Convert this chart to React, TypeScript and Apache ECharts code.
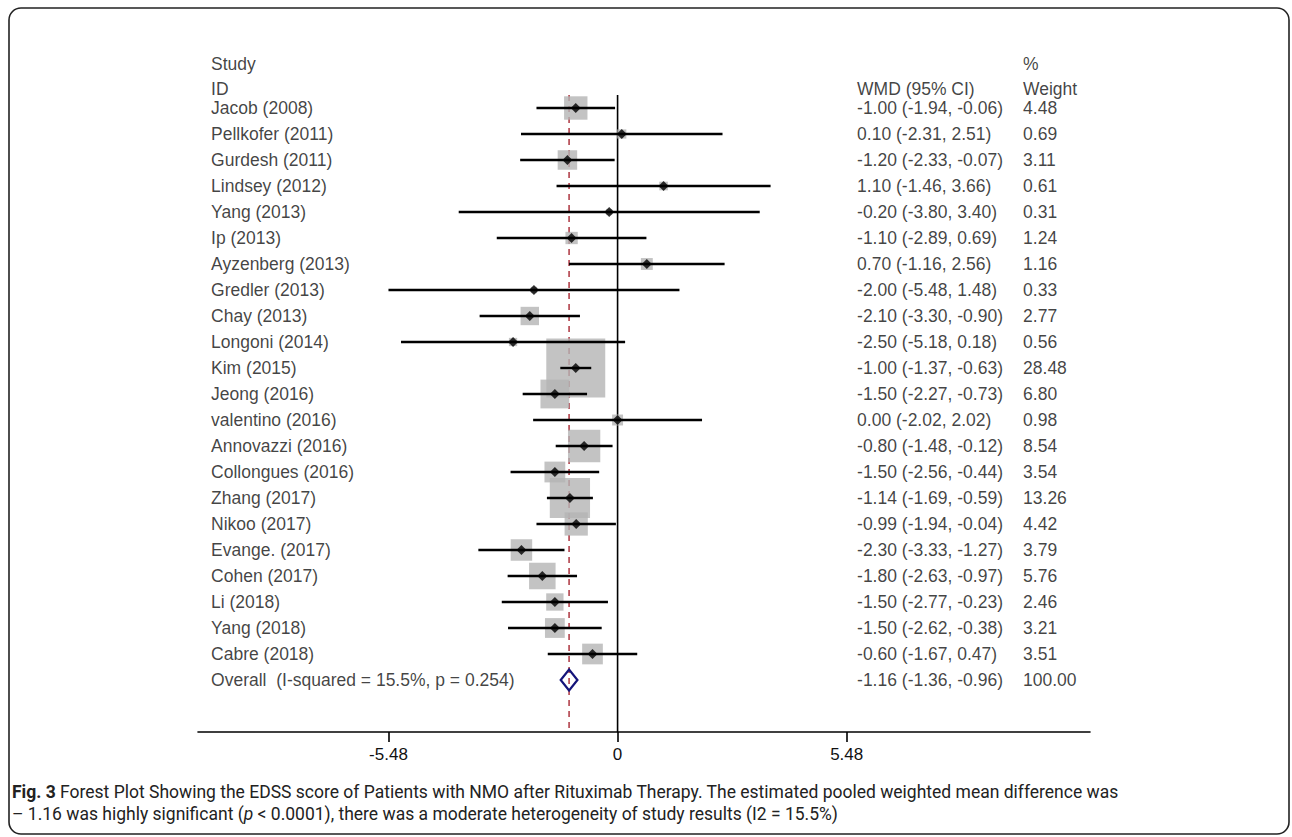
import React, { useEffect, useRef } from "react";
import * as echarts from "echarts";

const studies = [
  "Jacob (2008)", "Pellkofer (2011)", "Gurdesh (2011)", "Lindsey (2012)", "Yang (2013)",
  "Ip (2013)", "Ayzenberg (2013)", "Gredler (2013)", "Chay (2013)", "Longoni (2014)",
  "Kim (2015)", "Jeong (2016)", "valentino (2016)", "Annovazzi (2016)", "Collongues (2016)",
  "Zhang (2017)", "Nikoo (2017)", "Evange. (2017)", "Cohen (2017)", "Li (2018)",
  "Yang (2018)", "Cabre (2018)",
];
const wmd = [-1.0, 0.1, -1.2, 1.1, -0.2, -1.1, 0.7, -2.0, -2.1, -2.5, -1.0, -1.5, 0.0, -0.8, -1.5, -1.14, -0.99, -2.3, -1.8, -1.5, -1.5, -0.6];
const lower = [-1.94, -2.31, -2.33, -1.46, -3.8, -2.89, -1.16, -5.48, -3.3, -5.18, -1.37, -2.27, -2.02, -1.48, -2.56, -1.69, -1.94, -3.33, -2.63, -2.77, -2.62, -1.67];
const upper = [-0.06, 2.51, -0.07, 3.66, 3.4, 0.69, 2.56, 1.48, -0.9, 0.18, -0.63, -0.73, 2.02, -0.12, -0.44, -0.59, -0.04, -1.27, -0.97, -0.23, -0.38, 0.47];
const weights = [4.48, 0.69, 3.11, 0.61, 0.31, 1.24, 1.16, 0.33, 2.77, 0.56, 28.48, 6.8, 0.98, 8.54, 3.54, 13.26, 4.42, 3.79, 5.76, 2.46, 3.21, 3.51];

const overallLabel = "Overall  (I-squared = 15.5%, p = 0.254)";
const overallWmd = -1.16;
const overallLower = -1.36;
const overallUpper = -0.96;
const overallWeight = 100.0;

const xTicks = [-5.48, 0, 5.48];
const headerLeft = ["Study", "ID"];
const headerMid = "WMD (95% CI)";
const headerRight = ["%", "Weight"];

const captionLine1 = "Forest Plot Showing the EDSS score of Patients with NMO after Rituximab Therapy. The estimated pooled weighted mean difference was";
const captionLine2a = "\u2013 1.16 was highly significant (";
const captionLine2b = " < 0.0001), there was a moderate heterogeneity of study results (I2 = 15.5%)";

const FONT = "'Liberation Sans', Arial, sans-serif";
const CAP_FONT = "Roboto, 'Open Sans', sans-serif";

const nRows = studies.length; // overall row index
const fmt = (v: number) => v.toFixed(2);

export default function App() {
  const ref = useRef<HTMLDivElement>(null);
  useEffect(() => {
    if (!ref.current) return;
    const chart = echarts.init(ref.current, undefined, { renderer: "svg" });

    const rowsAll = [...studies, overallLabel];
    const wmdText = [
      ...wmd.map((v, i) => `${fmt(v)} (${fmt(lower[i])}, ${fmt(upper[i])})`),
      `${fmt(overallWmd)} (${fmt(overallLower)}, ${fmt(overallUpper)})`,
    ];
    const weightText = [...weights.map(fmt), fmt(overallWeight)];

    const textLabel = {
      show: true,
      position: "right" as const,
      distance: 0,
      fontFamily: FONT,
      fontSize: 17.5,
      color: "#111",
    };

    const textSeries = (x: number, texts: string[], ys: number[]) => ({
      type: "scatter",
      xAxisIndex: 1,
      yAxisIndex: 1,
      symbolSize: 0.1,
      clip: false,
      silent: true,
      itemStyle: { color: "transparent" },
      data: texts.map((_t, i) => [x, ys[i]]),
      label: { ...textLabel, formatter: (p: any) => texts[p.dataIndex] },
      z: 10,
    });

    const rowIdx = rowsAll.map((_, i) => i);
    const hdrStudyRow = -1.7;
    const hdrIdRow = -0.72;

    const option: any = {
      animation: false,
      backgroundColor: "#fff",
      grid: [
        { left: 198, top: 95, width: 892, height: 637 },
        { left: 0, top: 95, width: 1292, height: 637 },
      ],
      xAxis: [
        {
          type: "value",
          gridIndex: 0,
          min: -10.036,
          max: 11.3,
          axisLine: { show: true, onZero: false, lineStyle: { color: "#000", width: 1.6 } },
          axisTick: { show: true, customValues: xTicks, length: 10, lineStyle: { color: "#000", width: 1.6 } },
          axisLabel: {
            customValues: xTicks,
            formatter: (v: number) => (v === 0 ? "0" : String(v)),
            fontFamily: FONT,
            fontSize: 17,
            color: "#111",
            margin: 14,
          },
          splitLine: { show: false },
        },
        { type: "value", gridIndex: 1, min: 0, max: 1292, show: false },
      ],
      yAxis: [
        { type: "value", gridIndex: 0, min: -0.5, max: 24, inverse: true, show: false },
        { type: "value", gridIndex: 1, min: -0.5, max: 24, inverse: true, show: false },
      ],
      series: [
        {
          type: "line",
          xAxisIndex: 0,
          yAxisIndex: 0,
          data: [[0, -0.5], [0, 24]],
          symbol: "none",
          lineStyle: { color: "#000", width: 1.6 },
          silent: true,
          z: 1,
        },
        {
          type: "line",
          xAxisIndex: 0,
          yAxisIndex: 0,
          data: [[overallWmd, -0.5], [overallWmd, 24]],
          symbol: "none",
          lineStyle: { color: "#b2404a", width: 1.6, type: [6, 5] },
          silent: true,
          z: 1,
        },
        {
          type: "scatter",
          xAxisIndex: 0,
          yAxisIndex: 0,
          symbol: "rect",
          symbolSize: (d: number[]) => 11.05 * Math.sqrt(d[2]),
          itemStyle: { color: "#b4b4b4" },
          data: wmd.map((v, i) => [v, i, weights[i]]),
          silent: true,
          z: 2,
        },
        {
          type: "custom",
          xAxisIndex: 0,
          yAxisIndex: 0,
          clip: false,
          silent: true,
          renderItem: (_p: any, api: any) => {
            const a = api.coord([api.value(0), api.value(2)]);
            const b = api.coord([api.value(1), api.value(2)]);
            return {
              type: "line",
              shape: { x1: a[0], y1: a[1], x2: b[0], y2: b[1] },
              style: { stroke: "#000", lineWidth: 2.4 },
            };
          },
          encode: { x: [0, 1], y: 2 },
          data: lower.map((l, i) => [l, upper[i], i]),
          z: 3,
        },
        {
          type: "scatter",
          xAxisIndex: 0,
          yAxisIndex: 0,
          symbol: "diamond",
          symbolSize: 10,
          itemStyle: { color: "#000" },
          data: wmd.map((v, i) => [v, i]),
          silent: true,
          z: 4,
        },
        {
          type: "custom",
          xAxisIndex: 0,
          yAxisIndex: 0,
          clip: false,
          silent: true,
          renderItem: (_p: any, api: any) => {
            const y = api.value(3);
            const l = api.coord([api.value(0), y]);
            const c = api.coord([api.value(1), y]);
            const r = api.coord([api.value(2), y]);
            const h = api.size([0, 0.4])[1];
            return {
              type: "polygon",
              shape: { points: [[l[0], l[1]], [c[0], c[1] - h], [r[0], r[1]], [c[0], c[1] + h]] },
              style: { stroke: "#14147a", lineWidth: 2.2, fill: "rgba(255,255,255,0)" },
            };
          },
          encode: { x: [0, 1, 2], y: 3 },
          data: [[overallLower, overallWmd, overallUpper, nRows]],
          z: 5,
        },
        textSeries(211, rowsAll, rowIdx),
        textSeries(857, wmdText, rowIdx),
        textSeries(1023, weightText, rowIdx),
        textSeries(211, headerLeft, [hdrStudyRow, hdrIdRow]),
        textSeries(857, [headerMid], [hdrIdRow]),
        textSeries(1023, headerRight, [hdrStudyRow, hdrIdRow]),
      ],
      graphic: [
        {
          type: "rect",
          shape: { x: 9, y: 8, width: 1280, height: 826, r: 12 },
          style: { stroke: "#222", lineWidth: 1.6, fill: "none" },
          silent: true,
          z: 0,
        },
        {
          type: "text",
          x: 12,
          y: 792,
          style: {
            text: `{b|Fig. 3} ${captionLine1}`,
            fontFamily: CAP_FONT,
            fontSize: 17.5,
            fill: "#222",
            verticalAlign: "middle",
            rich: { b: { fontWeight: "bold", fontFamily: CAP_FONT, fontSize: 17.5, fill: "#222" } },
          },
          silent: true,
        },
        {
          type: "text",
          x: 12,
          y: 814,
          style: {
            text: `${captionLine2a}{i|p}${captionLine2b}`,
            fontFamily: CAP_FONT,
            fontSize: 17.5,
            fill: "#222",
            verticalAlign: "middle",
            rich: { i: { fontStyle: "italic", fontFamily: CAP_FONT, fontSize: 17.5, fill: "#222" } },
          },
          silent: true,
        },
      ],
    };

    chart.setOption(option);
    return () => chart.dispose();
  }, []);

  return (
    <div
      ref={ref}
      style={{ position: "absolute", left: 0, top: 0, width: 1292, height: 837 }}
    />
  );
}
